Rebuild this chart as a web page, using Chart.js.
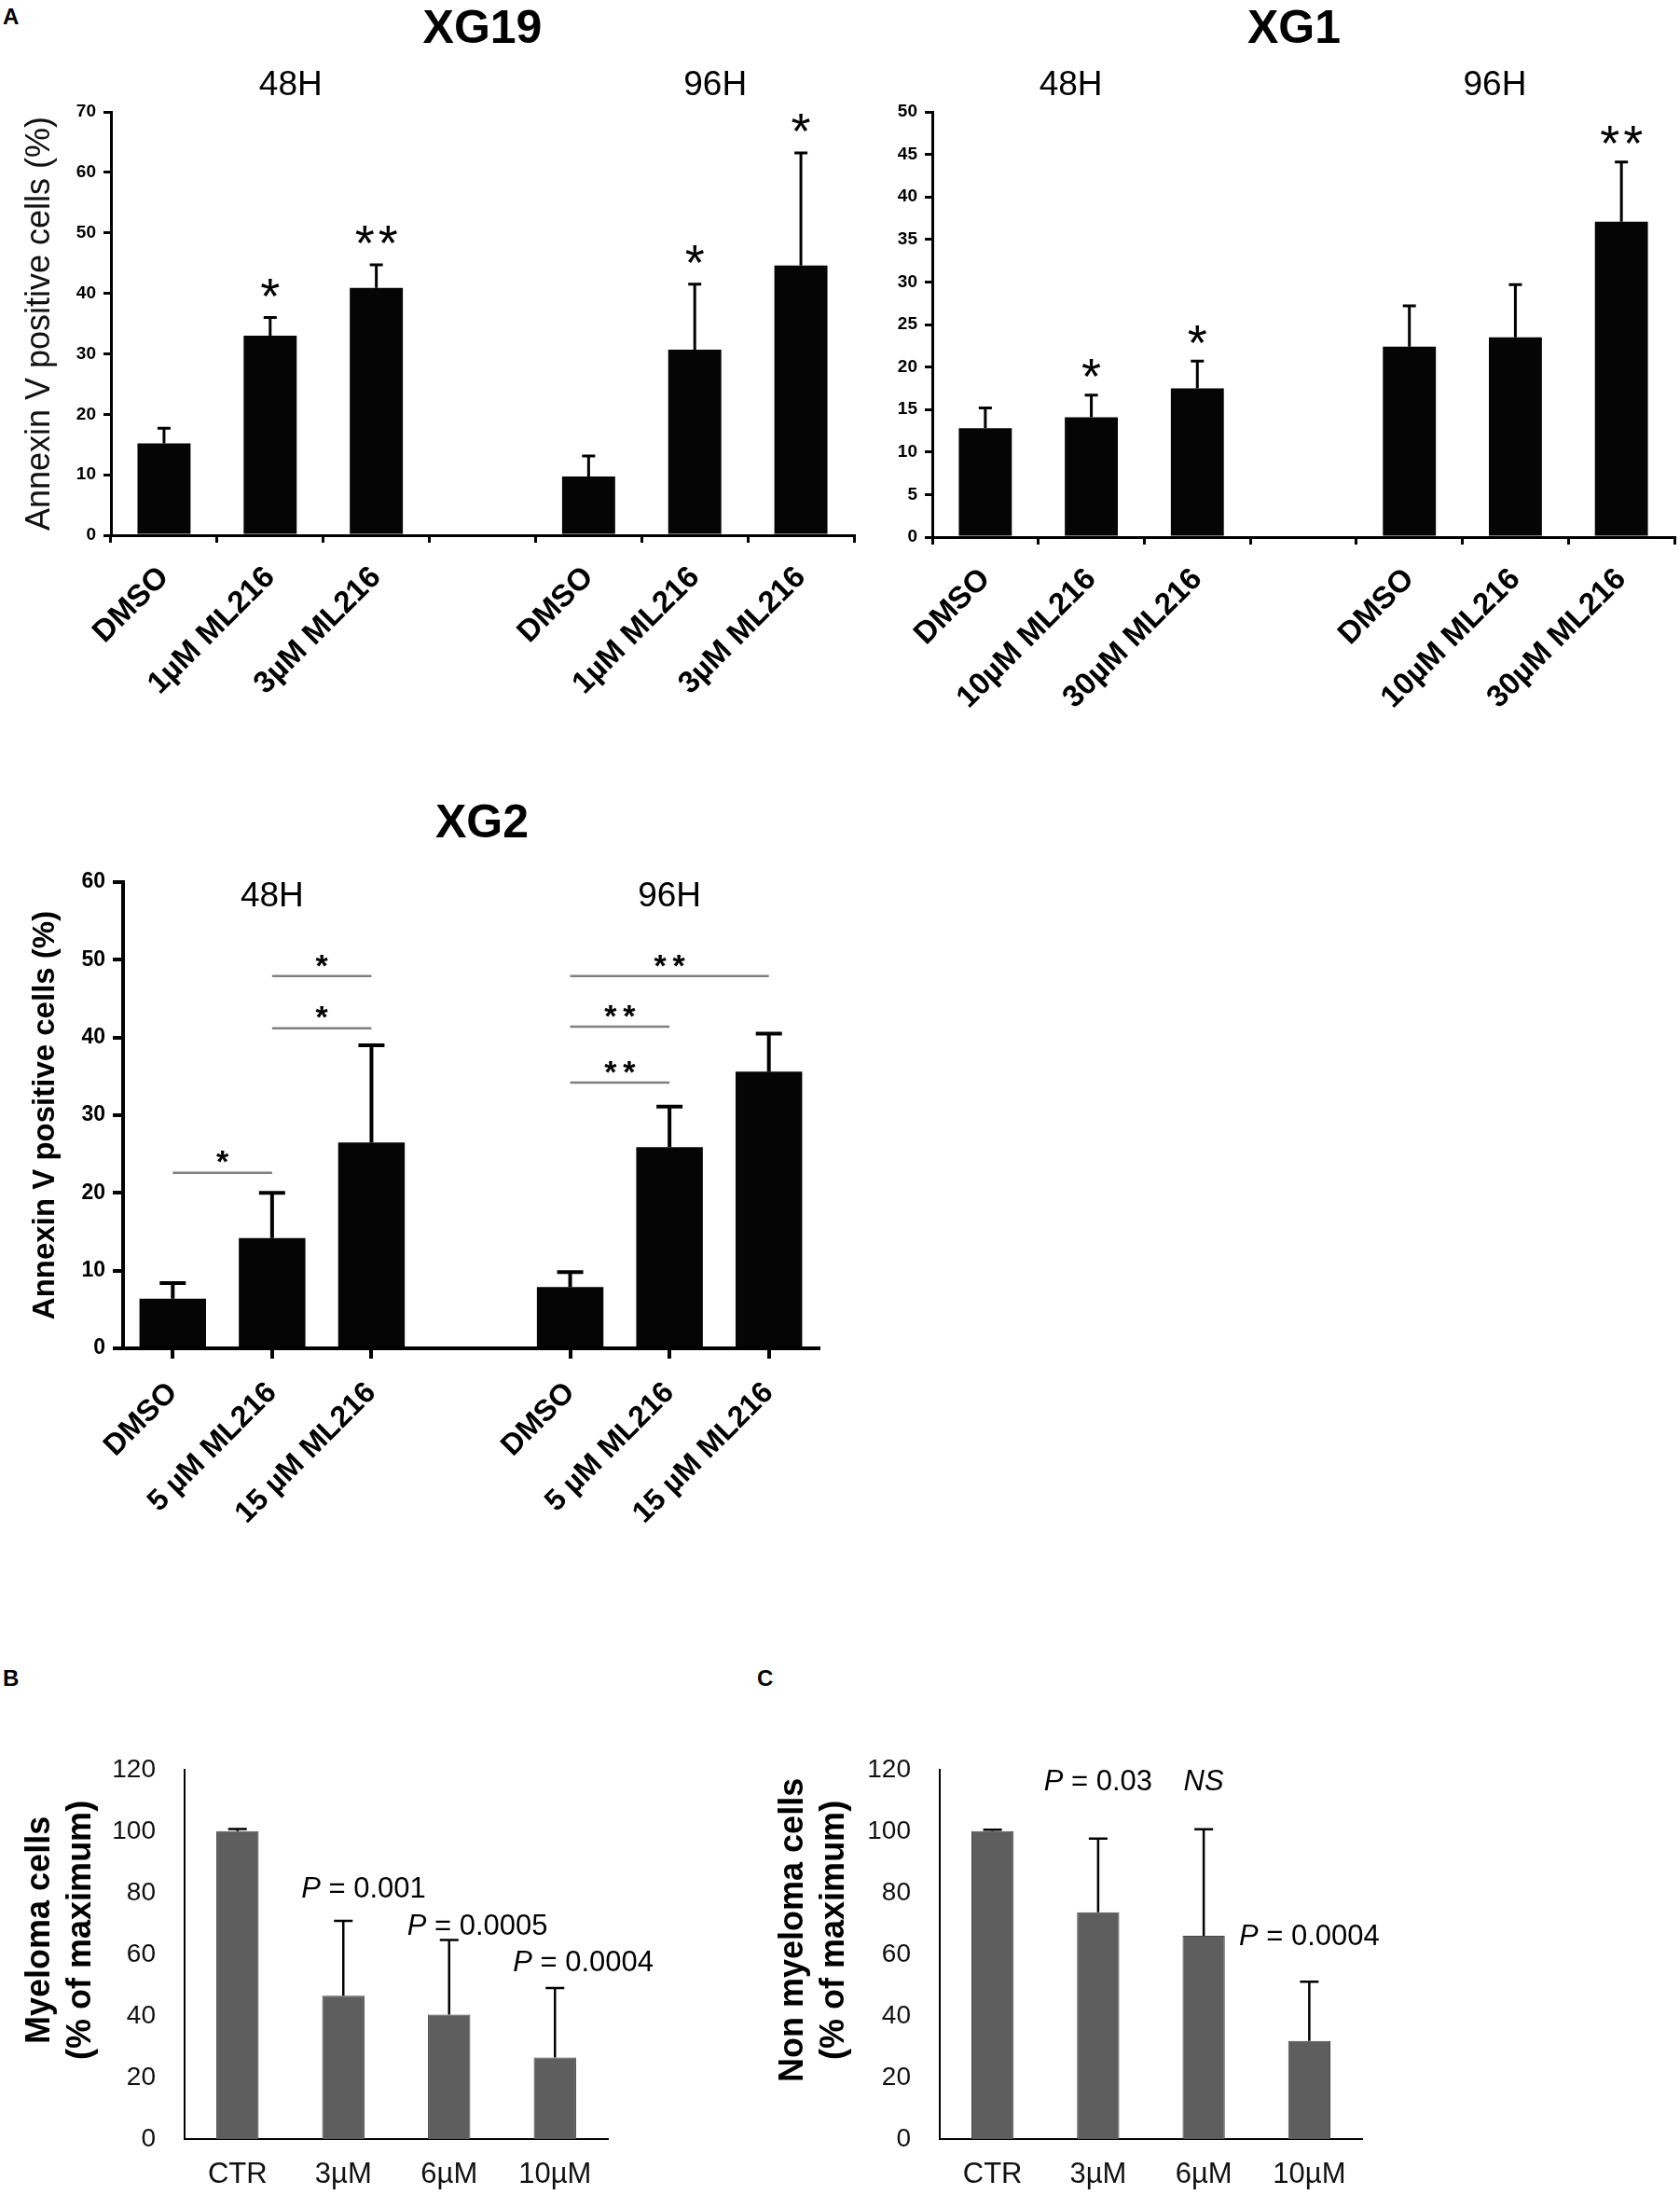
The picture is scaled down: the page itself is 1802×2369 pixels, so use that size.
<!DOCTYPE html>
<html>
<head>
<meta charset="utf-8">
<script src="https://cdn.jsdelivr.net/npm/chart.js@4.4.1/dist/chart.umd.min.js"></script>
<style>
  body { margin: 0; background: #fff; }
  #page { position: relative; width: 1802px; height: 2369px; overflow: hidden; background: #fff;
          font-family: "Liberation Sans", Arial, Helvetica, sans-serif; }
  canvas { position: absolute; }
  .tag { position: absolute; font-weight: bold; font-size: 24px; line-height: 1; color: #000; }
</style>
</head>
<body>
<div id="page">
  <div class="tag" style="left:3px;top:6px">A</div>
  <div class="tag" style="left:3px;top:1788px">B</div>
  <div class="tag" style="left:812px;top:1788px">C</div>
  <canvas id="cXG19" width="930" height="800" style="left:0;top:0;width:930px;height:800px"></canvas>
  <canvas id="cXG1" width="872" height="800" style="left:930px;top:0;width:872px;height:800px"></canvas>
  <canvas id="cXG2" width="900" height="830" style="left:0;top:850px;width:900px;height:830px"></canvas>
  <canvas id="cB" width="790" height="519" style="left:0;top:1850px;width:790px;height:519px"></canvas>
  <canvas id="cC" width="700" height="519" style="left:800px;top:1850px;width:700px;height:519px"></canvas>
</div>
<script>
const FONT = '"Liberation Sans", Arial, Helvetica, sans-serif';

// ---------- data ----------
const timeGroups = ['48H', '96H'];
const groupIndex = [[0, 1, 2], [4, 5, 6]];

// XG19
const xg19Labels = ['DMSO', '1µM ML216', '3µM ML216', '', 'DMSO', '1µM ML216', '3µM ML216'];
const xg19Means  = [15.2, 33.0, 40.9, null, 9.7, 30.7, 44.6];
const xg19Sd     = [2.5, 3.0, 3.8, null, 3.4, 10.8, 18.6];
const xg19Stars  = ['', '*', '**', '', '', '*', '*'];
const xg19Ticks  = [0, 10, 20, 30, 40, 50, 60, 70];

// XG1
const xg1Labels = ['DMSO', '10µM ML216', '30µM ML216', '', 'DMSO', '10µM ML216', '30µM ML216'];
const xg1Means  = [12.8, 14.1, 17.5, null, 22.4, 23.5, 37.1];
const xg1Sd     = [2.4, 2.6, 3.2, null, 4.8, 6.2, 7.0];
const xg1Stars  = ['', '*', '*', '', '', '', '**'];
const xg1Ticks  = [0, 5, 10, 15, 20, 25, 30, 35, 40, 45, 50];

// XG2
const xg2Labels = ['DMSO', '5 µM ML216', '15 µM ML216', '', 'DMSO', '5 µM ML216', '15 µM ML216'];
const xg2Means  = [6.4, 14.2, 26.5, null, 7.9, 25.9, 35.6];
const xg2Sd     = [2.0, 5.8, 12.5, null, 1.9, 5.2, 4.9];
const xg2Ticks  = [0, 10, 20, 30, 40, 50, 60];
// comparisons: [from, to, level, mark]
const xg2Compare = [
  [0, 1, 22.6, '*'], [1, 2, 41.2, '*'], [1, 2, 47.9, '*'],
  [4, 5, 34.2, '**'], [4, 5, 41.4, '**'], [4, 6, 47.9, '**']
];

// B - myeloma cells
const bLabels = ['CTR', '3µM', '6µM', '10µM'];
const bMeans  = [100, 46.6, 40.4, 26.5];
const bSd     = [0.7, 24.3, 24.3, 22.6];
const bNotes  = ['', 'P = 0.001', 'P = 0.0005', 'P = 0.0004'];
const bNoteAt = [null, 81, 69, 57];

// C - non myeloma cells
const cLabels = ['CTR', '3µM', '6µM', '10µM'];
const cMeans  = [100, 73.7, 66.0, 31.9];
const cSd     = [0.5, 23.9, 34.6, 19.2];
const cNotes  = ['', 'P = 0.03', 'NS', 'P = 0.0004'];
const cNoteAt = [null, 116, 116, 65.7];

const pctTicks = [0, 20, 40, 60, 80, 100, 120];

// ---------- drawing helpers ----------
function drawStars(ctx, mark, cx, cy, size, weight, spacing) {
  ctx.font = weight + ' ' + size + 'px ' + FONT;
  ctx.textAlign = 'center';
  ctx.textBaseline = 'alphabetic';
  const n = mark.length;
  for (let k = 0; k < n; k++) {
    ctx.fillText('*', cx + (k - (n - 1) / 2) * spacing, cy + size * 0.58);
  }
}

// "P" in italics, the rest upright; anything else fully italic (NS)
function drawNote(ctx, text, x, cy, size, align) {
  const parts = text.startsWith('P ')
    ? [{ t: 'P', i: true }, { t: text.slice(1), i: false }]
    : [{ t: text, i: true }];
  const widths = parts.map(p => {
    ctx.font = (p.i ? 'italic ' : '') + size + 'px ' + FONT;
    return ctx.measureText(p.t).width;
  });
  const total = widths.reduce((a, b) => a + b, 0);
  let cur = align === 'center' ? x - total / 2 : x;
  ctx.textAlign = 'left';
  ctx.textBaseline = 'middle';
  parts.forEach((p, k) => {
    ctx.font = (p.i ? 'italic ' : '') + size + 'px ' + FONT;
    ctx.fillText(p.t, cur, cy);
    cur += widths[k];
  });
}

const extras = {
  id: 'extras',
  afterDatasetsDraw(chart, args, o) {
    const ctx = chart.ctx, area = chart.chartArea;
    const xs = chart.scales.x, ys = chart.scales.y;
    ctx.save();
    ctx.fillStyle = '#000';
    ctx.strokeStyle = '#000';

    // error bars (upper only)
    const errTop = [];
    ctx.lineWidth = o.errWidth;
    o.means.forEach((m, i) => {
      if (m == null) return;
      const px = xs.getPixelForValue(i);
      const yb = ys.getPixelForValue(m);
      const yt = ys.getPixelForValue(m + o.sd[i]);
      errTop[i] = yt;
      ctx.beginPath();
      ctx.moveTo(px, yb); ctx.lineTo(px, yt);
      ctx.moveTo(px - o.capHalf, yt); ctx.lineTo(px + o.capHalf, yt);
      ctx.stroke();
    });

    // stars over single bars
    if (o.stars) {
      o.stars.forEach((s, i) => {
        if (!s) return;
        drawStars(ctx, s, xs.getPixelForValue(i), errTop[i] - o.starGap, o.starSize, 'normal', o.starSpacing);
      });
    }

    // comparison brackets
    if (o.compare) {
      o.compare.forEach(([a, b, lvl, mark]) => {
        const x1 = xs.getPixelForValue(a), x2 = xs.getPixelForValue(b);
        const py = ys.getPixelForValue(lvl);
        ctx.strokeStyle = '#808080';
        ctx.lineWidth = 2.5;
        ctx.beginPath(); ctx.moveTo(x1, py); ctx.lineTo(x2, py); ctx.stroke();
        ctx.fillStyle = '#000';
        drawStars(ctx, mark, (x1 + x2) / 2, py - 20, 34, 'bold', 20);
      });
    }

    // p-value notes
    if (o.notes) {
      o.notes.forEach((t, i) => {
        if (!t) return;
        drawNote(ctx, t, xs.getPixelForValue(i) + o.noteDx, ys.getPixelForValue(o.noteAt[i]), 31, o.noteAlign);
      });
    }

    // two-line y title (sits a bit above the axis middle in the original)
    if (o.yTitle) {
      ctx.fillStyle = '#000';
      ctx.font = 'bold 36px ' + FONT;
      ctx.textAlign = 'center';
      ctx.textBaseline = 'middle';
      const cy = (area.top + area.bottom) / 2 + o.yTitleDy;
      o.yTitle.forEach((line, k) => {
        ctx.save();
        ctx.translate(o.yTitleX + k * 44, cy);
        ctx.rotate(-Math.PI / 2);
        ctx.fillText(line, 0, 0);
        ctx.restore();
      });
    }

    // panel title and time headers
    if (o.title) {
      ctx.fillStyle = '#000';
      ctx.font = 'bold 50px ' + FONT;
      ctx.textAlign = 'center';
      ctx.textBaseline = 'middle';
      ctx.fillText(o.title, (area.left + area.right) / 2 + o.titleDx, area.top + o.titleDy);
      ctx.font = '37px ' + FONT;
      timeGroups.forEach((g, k) => {
        const idx = groupIndex[k];
        const cx = idx.reduce((s, i) => s + xs.getPixelForValue(i), 0) / idx.length;
        ctx.fillText(g, cx + o.groupDx, area.top + o.groupDy);
      });
    }
    ctx.restore();
  }
};

function fixedTicks(list) {
  return s => { s.ticks = list.map(v => ({ value: v })); };
}

// GraphPad style panels (A)
function prismPanel(id, labels, means, ticks, geo, extra) {
  return new Chart(document.getElementById(id), {
    type: 'bar',
    data: {
      labels: labels,
      datasets: [{ data: means, backgroundColor: '#050505', barPercentage: geo.barPct, categoryPercentage: 1 }]
    },
    options: {
      responsive: false, animation: false, devicePixelRatio: 1,
      layout: { padding: geo.padding },
      plugins: { legend: { display: false }, tooltip: { enabled: false }, extras: extra },
      scales: {
        x: {
          offset: true,
          afterFit: s => { s.height = geo.xHeight; },
          grid: {
            offset: geo.gridOffset, drawOnChartArea: false, tickLength: geo.tick, lineWidth: geo.line,
            color: geo.gridOffset ? '#000' : (c => labels[c.index] ? '#000' : 'rgba(0,0,0,0)')
          },
          border: { display: true, width: geo.line, color: '#000' },
          ticks: {
            autoSkip: false, minRotation: 45, maxRotation: 45, padding: geo.xPad, color: '#000',
            font: { family: FONT, size: geo.xFont, weight: 'bold' }
          }
        },
        y: {
          min: ticks[0], max: ticks[ticks.length - 1],
          afterBuildTicks: fixedTicks(ticks),
          afterFit: s => { s.width = geo.yWidth; },
          grid: { drawOnChartArea: false, tickLength: geo.tick, lineWidth: geo.line, color: '#000' },
          border: { display: true, width: geo.line, color: '#000' },
          ticks: { padding: 8, color: '#000', font: { family: FONT, size: geo.yFont, weight: 'bold' } },
          title: geo.yTitle
        }
      }
    },
    plugins: [extras]
  });
}

prismPanel('cXG19', xg19Labels, xg19Means, xg19Ticks,
  { barPct: 0.5, padding: { top: 120, left: 0, right: 14, bottom: 0 }, xHeight: 226, yWidth: 119,
    gridOffset: true, tick: 8, line: 3, xPad: 18, xFont: 33, yFont: 19,
    yTitle: { display: true, text: 'Annexin V positive cells (%)', color: '#111',
              font: { family: FONT, size: 36, weight: 'normal', lineHeight: 1.2 }, padding: { top: 21, bottom: 0 } } },
  { means: xg19Means, sd: xg19Sd, errWidth: 3, capHalf: 7, stars: xg19Stars, starGap: 36, starSize: 54, starSpacing: 25,
    title: 'XG19', titleDx: 0, titleDy: -88, groupDx: 22, groupDy: -28 });

prismPanel('cXG1', xg1Labels, xg1Means, xg1Ticks,
  { barPct: 0.5, padding: { top: 120, left: 0, right: 6, bottom: 0 }, xHeight: 224, yWidth: 70,
    gridOffset: true, tick: 8, line: 3, xPad: 18, xFont: 33, yFont: 19,
    yTitle: { display: false } },
  { means: xg1Means, sd: xg1Sd, errWidth: 3, capHalf: 7, stars: xg1Stars, starGap: 33, starSize: 54, starSpacing: 25,
    title: 'XG1', titleDx: -10, titleDy: -88, groupDx: -22, groupDy: -28 });

prismPanel('cXG2', xg2Labels, xg2Means, xg2Ticks,
  { barPct: 0.67, padding: { top: 96, left: 0, right: 22, bottom: 0 }, xHeight: 234, yWidth: 132,
    gridOffset: false, tick: 11, line: 4, xPad: 18, xFont: 32, yFont: 23,
    yTitle: { display: true, text: 'Annexin V positive cells (%)', color: '#000',
              font: { family: FONT, size: 33, weight: 'bold', lineHeight: 1.2 }, padding: { top: 29, bottom: 0 } } },
  { means: xg2Means, sd: xg2Sd, errWidth: 4, capHalf: 14, compare: xg2Compare,
    title: 'XG2', titleDx: 12, titleDy: -62, groupDx: 0, groupDy: 16 });

// Excel style panels (B, C)
function excelPanel(id, labels, means, geo, extra) {
  return new Chart(document.getElementById(id), {
    type: 'bar',
    data: {
      labels: labels,
      datasets: [{ data: means, backgroundColor: '#5e5e5e', borderColor: '#474747', borderWidth: 1,
                   barPercentage: 0.4, categoryPercentage: 1 }]
    },
    options: {
      responsive: false, animation: false, devicePixelRatio: 1,
      layout: { padding: geo.padding },
      plugins: { legend: { display: false }, tooltip: { enabled: false }, extras: extra },
      scales: {
        x: {
          z: 1,
          afterFit: s => { s.height = geo.xHeight; },
          grid: { display: false, drawTicks: false },
          border: { display: true, width: 2, color: '#000' },
          ticks: { padding: 20, color: '#111', font: { family: FONT, size: 31 } }
        },
        y: {
          z: 1,
          min: pctTicks[0], max: pctTicks[pctTicks.length - 1],
          afterBuildTicks: fixedTicks(pctTicks),
          afterFit: s => { s.width = geo.yWidth; },
          grid: { display: false, drawTicks: false },
          border: { display: true, width: 2, color: '#000' },
          ticks: { padding: 31, color: '#111', font: { family: FONT, size: 28 } }
        }
      }
    },
    plugins: [extras]
  });
}

excelPanel('cB', bLabels, bMeans,
  { padding: { top: 24, left: 0, right: 138, bottom: 0 }, xHeight: 75, yWidth: 198 },
  { means: bMeans, sd: bSd, errWidth: 2.5, capHalf: 10, notes: bNotes, noteAt: bNoteAt, noteDx: -45, noteAlign: 'left',
    yTitle: ['Myeloma cells', '(% of maximum)'], yTitleX: 43, yTitleDy: -26 });

excelPanel('cC', cLabels, cMeans,
  { padding: { top: 24, left: 0, right: 39, bottom: 0 }, xHeight: 75, yWidth: 208 },
  { means: cMeans, sd: cSd, errWidth: 2.5, capHalf: 10, notes: cNotes, noteAt: cNoteAt, noteDx: 0, noteAlign: 'center',
    yTitle: ['Non myeloma cells', '(% of maximum)'], yTitleX: 51, yTitleDy: -26 });
</script>
</body>
</html>
